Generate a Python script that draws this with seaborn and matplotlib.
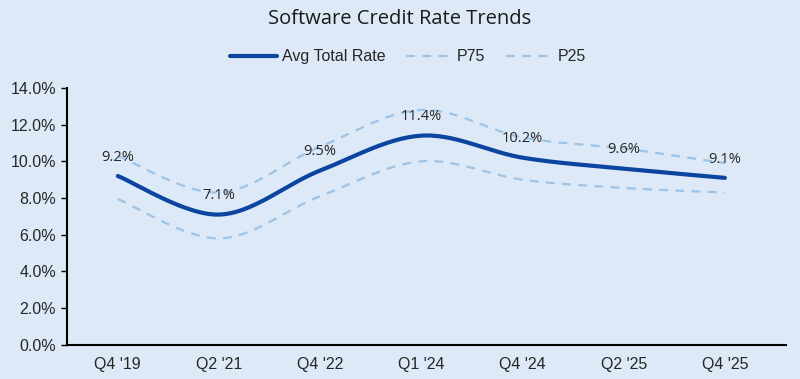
import matplotlib
matplotlib.use("Agg")
import matplotlib.pyplot as plt
import numpy as np
import pandas as pd
import seaborn as sns
from matplotlib.ticker import PercentFormatter

quarters = ["Q4 '19", "Q2 '21", "Q4 '22", "Q1 '24", "Q4 '24", "Q2 '25", "Q4 '25"]
avg_rate = [9.2, 7.1, 9.5, 11.4, 10.2, 9.6, 9.1]
p75 = [10.3, 8.3, 10.8, 12.8, 11.3, 10.7, 9.9]
p25 = [7.95, 5.8, 8.1, 10.0, 9.0, 8.55, 8.3]

BG = "#dde9f7"
DARK = "#0b45a0"
LIGHT = "#9dc3e6"


def smooth(y, n=30):
    # catmull-rom curve through the points, like the excel "smoothed line"
    y = np.asarray(y, dtype=float)
    x = np.arange(len(y), dtype=float)
    pts = np.column_stack([x, y])
    pts = np.vstack([pts[0], pts, pts[-1]])
    out = []
    for i in range(1, len(pts) - 2):
        p0, p1, p2, p3 = pts[i - 1], pts[i], pts[i + 1], pts[i + 2]
        t = np.linspace(0, 1, n, endpoint=False)[:, None]
        seg = 0.5 * ((2 * p1) + (-p0 + p2) * t
                     + (2 * p0 - 5 * p1 + 4 * p2 - p3) * t ** 2
                     + (-p0 + 3 * p1 - 3 * p2 + p3) * t ** 3)
        out.append(seg)
    out.append(pts[-2][None, :])
    out = np.vstack(out)
    return out[:, 0], out[:, 1]


sns.set_theme(style="white")
plt.rcParams["font.family"] = ["Liberation Sans Narrow", "Liberation Sans", "DejaVu Sans"]

fig = plt.figure(figsize=(8, 3.79), dpi=100, facecolor=BG)
ax = fig.add_axes([0.084, 0.09, 0.898, 0.678], facecolor=BG)

frames = []
for name, vals in [("P75", p75), ("P25", p25), ("Avg Total Rate", avg_rate)]:
    xs, ys = smooth(vals)
    frames.append(pd.DataFrame({"x": xs, "y": ys, "series": name}))
df = pd.concat(frames, ignore_index=True)

sns.lineplot(data=df[df.series == "P75"], x="x", y="y", ax=ax, color=LIGHT,
             lw=1.6, linestyle=(0, (4, 3.3)), sort=False, label="P75")
sns.lineplot(data=df[df.series == "P25"], x="x", y="y", ax=ax, color=LIGHT,
             lw=1.6, linestyle=(0, (4, 3.3)), sort=False, label="P25")
sns.lineplot(data=df[df.series == "Avg Total Rate"], x="x", y="y", ax=ax,
             color=DARK, lw=3, sort=False, label="Avg Total Rate")

for i, v in enumerate(avg_rate):
    ax.annotate(f"{v:.1f}%", (i, v), xytext=(0, 13.5), textcoords="offset points",
                ha="center", va="center", fontsize=10.5, color="#262626",
                family=["Open Sans", "DejaVu Sans"], zorder=5)

ax.set_xlim(-0.5, 6.6)
ax.set_ylim(0, 14)
ax.set_yticks(np.arange(0, 14.1, 2))
ax.yaxis.set_major_formatter(PercentFormatter(decimals=1))
ax.set_xticks(range(len(quarters)))
ax.set_xticklabels(quarters)
ax.set_xlabel("")
ax.set_ylabel("")
ax.tick_params(axis="y", length=4, width=1, color="black", labelsize=11.5, pad=4, left=True)
ax.tick_params(axis="x", length=0, labelsize=11.5, pad=9)
for s in ["top", "right"]:
    ax.spines[s].set_visible(False)
for s in ["left", "bottom"]:
    ax.spines[s].set_color("black")
    ax.spines[s].set_linewidth(1.5)

handles, labels = ax.get_legend_handles_labels()
order = [labels.index(n) for n in ["Avg Total Rate", "P75", "P25"]]
fig.legend([handles[k] for k in order], [labels[k] for k in order],
           loc="center", bbox_to_anchor=(0.51, 0.85), ncol=3, frameon=False,
           fontsize=11.5, handlelength=2.9, columnspacing=1.3, handletextpad=0.3)
ax.get_legend().remove()

fig.text(0.5, 0.95, "Software Credit Rate Trends", ha="center", va="center",
         fontsize=14.5, color="#1a1a1a", family=["Open Sans", "DejaVu Sans"])

fig.savefig("out.png", dpi=100, facecolor=BG)
